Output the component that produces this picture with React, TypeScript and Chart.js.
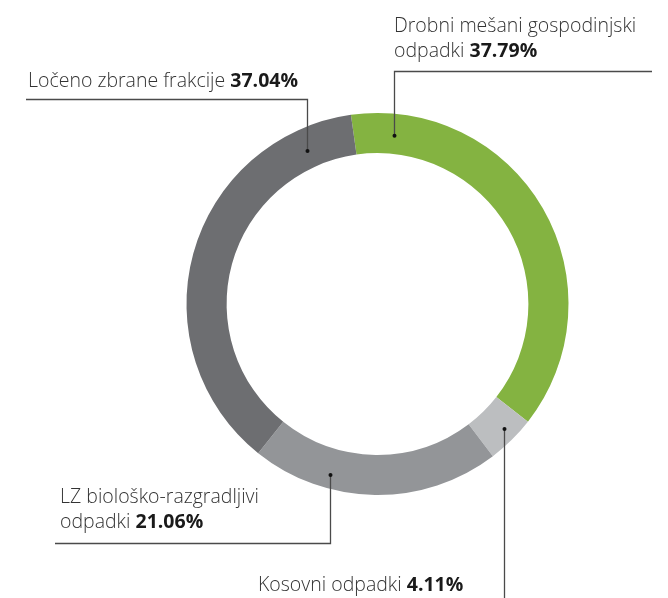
import React, { useEffect, useRef } from "react";
import { Chart, registerables } from "chart.js";

Chart.register(...registerables);

const categories = [
  "Drobni mešani gospodinjski odpadki",
  "Kosovni odpadki",
  "LZ biološko-razgradljivi odpadki",
  "Ločeno zbrane frakcije",
];
const shares = [37.79, 4.11, 21.06, 37.04];
const colors = ["#84b341", "#bcbec0", "#939598", "#6d6e71"];
// label text lines (the last line is followed by the bold percentage)
const labelLines = [
  ["Drobni mešani gospodinjski", "odpadki "],
  ["Kosovni odpadki "],
  ["LZ biološko-razgradljivi", "odpadki "],
  ["Ločeno zbrane frakcije "],
];

// layout of annotations (positions only)
const anchorFrac = [0.1, 0.44, 0.695, 0.874]; // where along the arc the dot sits
const anchorRad = [0.45, 0.68, 0.66, 0.44]; // radial position inside the ring
const textPos = [
  { x: 394, y: 32 },
  { x: 258, y: 591 },
  { x: 60, y: 503 },
  { x: 28, y: 87 },
];
const leaderY = [71, 598, 543, 99];
const leaderEndX = [652, null, 55, 26];

const FONT = "'Open Sans', Lato, sans-serif";
const FS = 19.5;
const LH = 25;

const leaderPlugin = {
  id: "leaders",
  afterDatasetsDraw(chart: any) {
    const ctx = chart.ctx as CanvasRenderingContext2D;
    const meta = chart.getDatasetMeta(0);
    ctx.save();
    meta.data.forEach((arc: any, i: number) => {
      const p = arc.getProps(["x", "y", "startAngle", "endAngle", "innerRadius", "outerRadius"], true);
      const a = p.startAngle + anchorFrac[i] * (p.endAngle - p.startAngle);
      const r = p.innerRadius + anchorRad[i] * (p.outerRadius - p.innerRadius);
      const dx = p.x + r * Math.cos(a);
      const dy = p.y + r * Math.sin(a);
      const lx = Math.round(dx) + 0.5;
      ctx.strokeStyle = "#4a4a4a";
      ctx.lineWidth = 1.3;
      ctx.beginPath();
      ctx.moveTo(lx, dy);
      ctx.lineTo(lx, leaderY[i] + 0.5);
      if (leaderEndX[i] !== null) ctx.lineTo(leaderEndX[i] as number, leaderY[i] + 0.5);
      ctx.stroke();
      ctx.fillStyle = "#111";
      ctx.beginPath();
      ctx.arc(lx, dy, 2, 0, Math.PI * 2);
      ctx.fill();

      // text
      const lines = labelLines[i];
      ctx.textBaseline = "alphabetic";
      ctx.textAlign = "left";
      lines.forEach((ln, k) => {
        const ty = textPos[i].y + k * LH;
        ctx.font = `300 ${FS}px ${FONT}`;
        ctx.fillStyle = "#333333";
        ctx.fillText(ln, textPos[i].x, ty);
        if (k === lines.length - 1) {
          const w = ctx.measureText(ln).width;
          ctx.font = `700 ${FS}px ${FONT}`;
          ctx.fillStyle = "#1a1a1a";
          ctx.fillText(shares[i].toFixed(2) + "%", textPos[i].x + w, ty);
        }
      });
    });
    ctx.restore();
  },
};

export default function App() {
  const ref = useRef<HTMLCanvasElement>(null);
  useEffect(() => {
    if (!ref.current) return;
    const chart = new Chart(ref.current, {
      type: "doughnut",
      data: {
        labels: categories,
        datasets: [
          {
            data: shares,
            backgroundColor: colors,
            borderWidth: 0,
          },
        ],
      },
      options: {
        animation: false,
        responsive: false,
        cutout: "79%",
        rotation: -8,
        layout: { padding: { left: 186.5, right: 99.5, top: 113, bottom: 103 } },
        plugins: {
          legend: { display: false },
          tooltip: { enabled: false },
        },
      },
      plugins: [leaderPlugin],
    });
    return () => chart.destroy();
  }, []);
  return (
    <div style={{ position: "absolute", left: 0, top: 0, width: 668, height: 598, background: "#fff" }}>
      <canvas ref={ref} width={668} height={598} style={{ width: 668, height: 598 }} />
    </div>
  );
}
